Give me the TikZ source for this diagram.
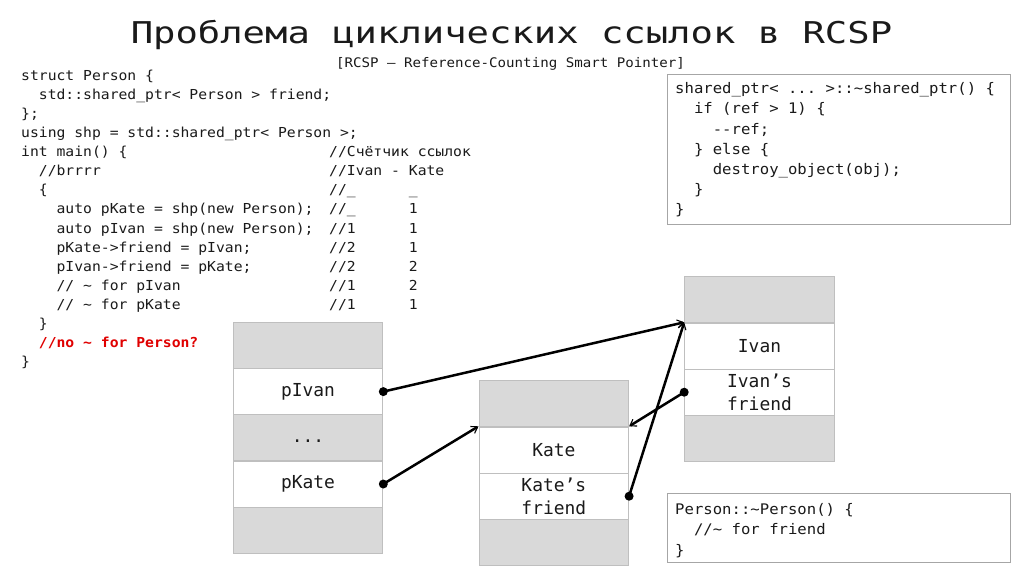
\documentclass[tikz,border=0pt]{standalone}
\usepackage{fontspec}
\usetikzlibrary{arrows.meta}
\newfontfamily\codef[FakeStretch=1.07]{DejaVu Sans Mono}
\newfontfamily\titlef[FakeStretch=1.24]{DejaVu Sans Mono}
\newfontfamily\cellf{DejaVu Sans Mono}
\definecolor{cellgray}{HTML}{D9D9D9}
\definecolor{bordergray}{HTML}{BFBFBF}
\definecolor{boxborder}{HTML}{A6A6A6}
\definecolor{codered}{HTML}{E00000}
\definecolor{ink}{HTML}{1A1A1A}
\frenchspacing
\tikzset{
  codetext/.style={inner sep=0pt, anchor=north west, align=left, text=ink,
    font=\codef\fontsize{13.75}{19.1}\selectfont},
  boxtext/.style={inner sep=0pt, anchor=north west, align=left, text=ink,
    font=\codef\fontsize{14.6}{20.2}\selectfont},
  framebox/.style={draw=boxborder, line width=1pt, inner sep=0pt, anchor=north west},
  cell/.style={draw=bordergray, line width=1.2pt, fill=white, minimum width=149.4pt,
    minimum height=46.2pt, inner sep=0pt, align=center, text=ink,
    font=\cellf\fontsize{17.9}{22.5}\selectfont},
  graycell/.style={cell, fill=cellgray},
  ptr/.style={line width=2.5pt, black, -{Straight Barb[length=6pt,width=8pt,line width=1.1pt]}},
  ptrdot/.style={fill=black}
}
\begin{document}
\begin{tikzpicture}[x=1pt,y=-1pt]
\useasboundingbox (0,0) rectangle (1024,576);
\fill[white] (0,0) rectangle (1024,576);

% title
\node[anchor=base, inner sep=0pt, text=ink, font=\titlef\fontsize{30}{36}\selectfont] (title) at (511.5,43.5)
  {Проблема циклических ссылок в RCSP};
\node[anchor=base, inner sep=0pt, text=ink, font=\codef\fontsize{13.2}{16}\selectfont] (subtitle) at (510.5,67)
  {[RCSP – Reference-Counting Smart Pointer]};

% left code
\node[codetext] (code) at (21,66.63) {%
\strut struct Person \{\\
\strut\ \ std::shared\_ptr< Person > friend;\\
\strut \};\\
\strut using shp = std::shared\_ptr< Person >;\\
\strut int main() \{\\
\strut\ \ //brrrr\\
\strut\ \ \{\\
\strut\ \ \ \ auto pKate = shp(new Person);\\
\strut\ \ \ \ auto pIvan = shp(new Person);\\
\strut\ \ \ \ pKate->friend = pIvan;\\
\strut\ \ \ \ pIvan->friend = pKate;\\
\strut\ \ \ \ // \textasciitilde{} for pIvan\\
\strut\ \ \ \ // \textasciitilde{} for pKate\\
\strut\ \ \}\\
\strut\ \ {\color{codered}\bfseries //no \textasciitilde{} for Person?}\\
\strut \}};

% comment column
\node[codetext] (counts) at (329,143.03) {%
\strut //Счётчик ссылок\\
\strut //Ivan - Kate\\
\strut //\_\ \ \ \ \ \ \_\\
\strut //\_\ \ \ \ \ \ 1\\
\strut //1\ \ \ \ \ \ 1\\
\strut //2\ \ \ \ \ \ 1\\
\strut //2\ \ \ \ \ \ 2\\
\strut //1\ \ \ \ \ \ 2\\
\strut //1\ \ \ \ \ \ 1};

% destructor box
\node[framebox, minimum width=343pt, minimum height=150pt] (dtorbox) at (667,74) {};
\node[boxtext] (dtor) at (675,79.36) {%
\strut shared\_ptr< ... >::\textasciitilde shared\_ptr() \{\\
\strut\ \ if (ref > 1) \{\\
\strut\ \ \ \ -{}-ref;\\
\strut\ \ \} else \{\\
\strut\ \ \ \ destroy\_object(obj);\\
\strut\ \ \}\\
\strut \}};

% Person destructor box
\node[framebox, minimum width=343pt, minimum height=69pt] (persbox) at (667,493) {};
\node[boxtext] (pers) at (675,500.4) {%
\strut Person::\textasciitilde Person() \{\\
\strut\ \ //\textasciitilde{} for friend\\
\strut \}};

% stack column
\node[graycell] (s1) at (308,345.4) {};
\node[cell]     (pivan) at (308,391.6) {pIvan};
\node[graycell] (s3) at (308,437.8) {\raisebox{-5pt}[0pt][0pt]{...}};
\node[cell]     (pkate) at (308,484.0) {pKate};
\node[graycell] (s5) at (308,530.2) {};

% Kate object
\node[graycell] (k1) at (553.8,403.8) {};
\node[cell]     (kate) at (553.8,450.0) {Kate};
\node[cell]     (katef) at (553.8,496.2) {Kate’s\\friend};
\node[graycell] (k4) at (553.8,542.4) {};

% Ivan object
\node[graycell] (i1) at (759.5,299.8) {};
\node[cell]     (ivan) at (759.5,346.0) {Ivan};
\node[cell]     (ivanf) at (759.5,392.2) {Ivan’s\\friend};
\node[graycell] (i4) at (759.5,438.4) {};

% pointers
\draw[ptr] (pivan.east) -- (ivan.north west);
\draw[ptr] (pkate.east) -- (kate.north west);
\draw[ptr] (ivanf.west) -- (kate.north east);
\draw[ptr] (katef.east) -- (ivan.north west);
\fill[ptrdot] (pivan.east) circle (4.5);
\fill[ptrdot] (pkate.east) circle (4.5);
\fill[ptrdot] (ivanf.west) circle (4.5);
\fill[ptrdot] (katef.east) circle (4.5);
\end{tikzpicture}
\end{document}
